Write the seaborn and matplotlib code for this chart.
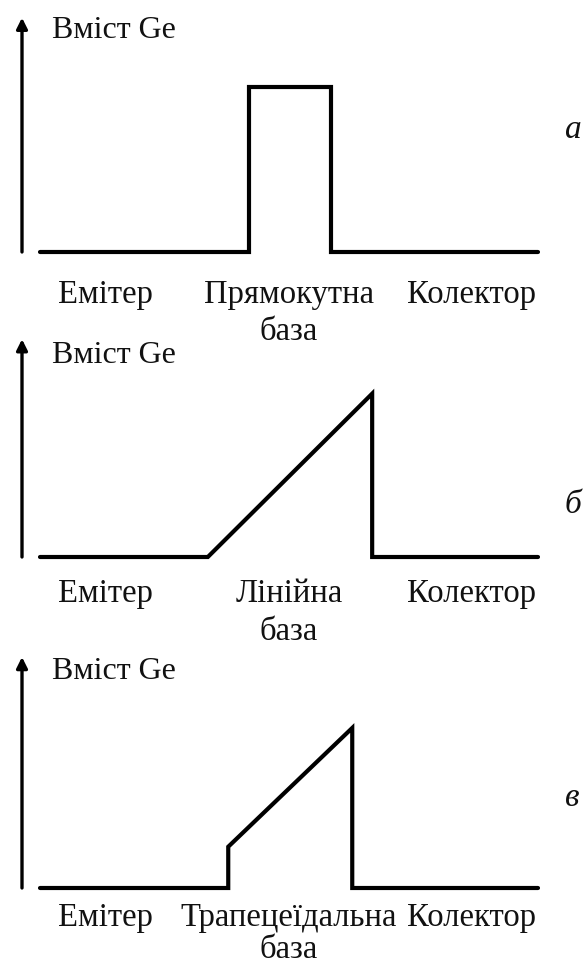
import matplotlib
matplotlib.use("Agg")
import matplotlib.pyplot as plt
import seaborn as sns
import pandas as pd

sns.set_theme(style="white")
plt.rcParams["font.family"] = ["Liberation Serif", "DejaVu Serif"]

# Ge content profiles across emitter / base / collector (position in arbitrary units 0..10)
rect_pos = [0, 4.2, 4.2, 5.84, 5.84, 10]
rect_ge = [0, 0, 1.0, 1.0, 0, 0]
lin_pos = [0, 3.37, 6.67, 6.67, 10]
lin_ge = [0, 0, 0.99, 0, 0]
trap_pos = [0, 3.78, 3.78, 6.27, 6.27, 10]
trap_ge = [0, 0, 0.25, 0.97, 0, 0]

y_label = "Вміст Ge"
region_labels = ["Емітер", None, "Колектор"]
base_labels = ["Прямокутна\nбаза", "Лінійна\nбаза", "Трапецеїдальна\nбаза"]
panel_tags = ["а", "б", "в"]

W, H = 585, 963
fig = plt.figure(figsize=(W / 100, H / 100), dpi=100)

# pixel layout helpers
x0_px, unit_px, yunit_px = 40, 49.8, 165.0
bands = [(0, 321, 252), (321, 642, 557), (642, 963, 888)]
arrow_top = [1.42, 1.32, 1.40]
ylab_y = [1.34, 1.22, 1.31]
lab_y = [-0.164, -0.133, -0.085]
lab_ls = [1.3, 1.3, 1.08]
tag_y = [(252 - 130) / 165, (557 - 505) / 165, (888 - 798) / 165]

profiles = [(rect_pos, rect_ge), (lin_pos, lin_ge), (trap_pos, trap_ge)]
FS = 23.5

for i, ((top, bot, base), (px, ge)) in enumerate(zip(bands, profiles)):
    ax = fig.add_axes([0, 1 - bot / H, 1, (bot - top) / H])
    ax.set_xlim(-x0_px / unit_px, (W - x0_px) / unit_px)
    ax.set_ylim(-(bot - base) / yunit_px, (base - top) / yunit_px)
    ax.axis("off")

    df = pd.DataFrame({"pos": px, "ge": ge})
    sns.lineplot(data=df, x="pos", y="ge", sort=False, estimator=None,
                 color="black", lw=3.0, ax=ax)
    for ln in ax.lines:
        ln.set_solid_joinstyle("miter")

    ax_x = (22 - x0_px) / unit_px
    ax.annotate("", xy=(ax_x, arrow_top[i]), xytext=(ax_x, 0.0),
                arrowprops=dict(arrowstyle="-|>", lw=2.4, color="black",
                                mutation_scale=16, shrinkA=0, shrinkB=0))
    ax.text((52 - x0_px) / unit_px, ylab_y[i], y_label, fontsize=23,
            ha="left", va="center", color="#111111")

    centers = [(105 - x0_px) / unit_px, (289 - x0_px) / unit_px, (471 - x0_px) / unit_px]
    labels = [region_labels[0], base_labels[i], region_labels[2]]
    for cx, t in zip(centers, labels):
        ax.text(cx, lab_y[i], t, fontsize=FS, ha="center", va="top",
                linespacing=lab_ls[i], color="#111111")

    ax.text((565 - x0_px) / unit_px, tag_y[i], panel_tags[i], fontsize=24,
            style="italic", ha="left", va="center", color="#111111")

fig.savefig("out.png", dpi=100, facecolor="white")
